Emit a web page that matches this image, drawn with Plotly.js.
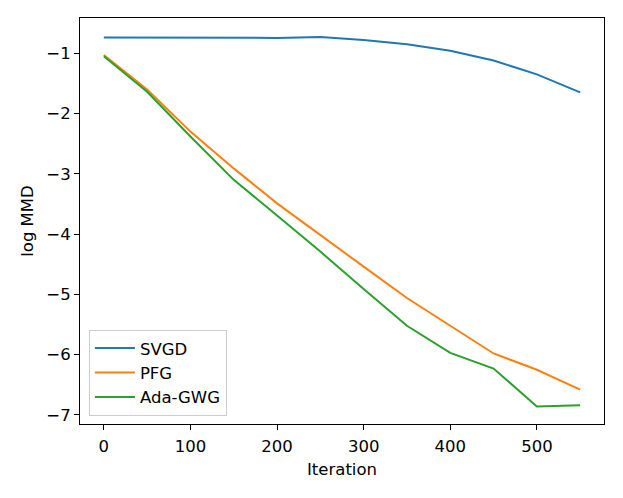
<!DOCTYPE html>
<html>
<head>
<meta charset="utf-8">
<script src="https://cdn.plot.ly/plotly-3.0.1.min.js"></script>
<style>html,body{margin:0;padding:0;background:#fff}#chart{width:623px;height:498px}</style>
</head>
<body>
<div id="chart"></div>
<script>
const iterations = [0, 50, 100, 150, 200, 250, 300, 350, 400, 450, 500, 550];
const svgd = [-0.74, -0.74, -0.75, -0.75, -0.745, -0.73, -0.78, -0.85, -0.96, -1.12, -1.35, -1.65];
const pfg = [-1.03, -1.60, -2.30, -2.91, -3.49, -4.02, -4.54, -5.06, -5.52, -5.98, -6.25, -6.58];
const adagwg = [-1.05, -1.64, -2.38, -3.10, -3.69, -4.29, -4.91, -5.52, -5.97, -6.23, -6.86, -6.84];
const seriesNames = ["SVGD", "PFG", "Ada-GWG"];
const colors = ["#1f77b4", "#ff7f0e", "#2ca02c"];
const xTicks = [0, 100, 200, 300, 400, 500];
const yTicks = [-1, -2, -3, -4, -5, -6, -7];

const font = {family: "DejaVu Sans", size: 16.5, color: "#000"};
const traces = [svgd, pfg, adagwg].map((ys, i) => ({
  x: iterations, y: ys, type: "scatter", mode: "lines",
  name: seriesNames[i], line: {color: colors[i], width: 2}
}));

const axisCommon = {
  showline: true, linecolor: "#000", linewidth: 1, mirror: true,
  ticks: "outside", ticklen: 5, tickwidth: 1, tickcolor: "#000",
  showgrid: false, zeroline: false, tickfont: font
};

const layout = {
  width: 623, height: 498,
  margin: {l: 80, r: 19, t: 18, b: 74},
  paper_bgcolor: "#fff", plot_bgcolor: "#fff",
  font: font,
  showlegend: true,
  legend: {x: 0.017, y: 0.02, xanchor: "left", yanchor: "bottom",
           bordercolor: "#cccccc", borderwidth: 1, bgcolor: "rgba(255,255,255,0.8)",
           font: font, tracegroupgap: 0, itemwidth: 40},
  xaxis: Object.assign({}, axisCommon, {
    range: [-27.5, 577.5], tickvals: xTicks, ticklabelstandoff: 2,
    title: {text: "Iteration", font: font, standoff: 8}
  }),
  yaxis: Object.assign({}, axisCommon, {
    range: [-7.15, -0.415], tickvals: yTicks,
    title: {text: "log MMD", font: font, standoff: 8}
  })
};

Plotly.newPlot("chart", traces, layout, {displayModeBar: false, staticPlot: true});
</script>
</body>
</html>
